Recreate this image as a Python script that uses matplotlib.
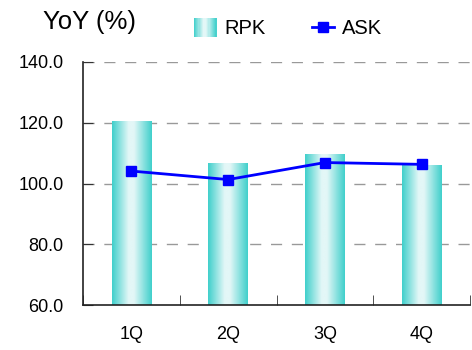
import numpy as np
import matplotlib
matplotlib.use("Agg")
import matplotlib.pyplot as plt
from matplotlib.colors import LinearSegmentedColormap
from matplotlib.patches import Rectangle
from matplotlib.lines import Line2D
from matplotlib.legend_handler import HandlerBase

categories = ["1Q", "2Q", "3Q", "4Q"]
rpk = [120.5, 106.6, 109.6, 106.0]
ask = [104.1, 101.3, 106.9, 106.3]
yticks = [60.0, 80.0, 100.0, 120.0, 140.0]

plt.rcParams['font.family'] = ['Liberation Sans', 'DejaVu Sans']

edge = "#3fcfcb"
light = "#e3f7f7"
cmap = LinearSegmentedColormap.from_list("g", [(0, edge), (0.42, light), (0.55, light), (1, edge)])
grad = np.linspace(0, 1, 256).reshape(1, -1)

fig = plt.figure(figsize=(4.72, 3.5), dpi=100)
ax = fig.add_axes([83/472, 1-305/350, 387/472, 243/350])

x = np.arange(len(categories))
bars = ax.bar(x, rpk, width=0.41, bottom=0, color="none", edgecolor="none", zorder=2)
for b in bars:
    x0, y0 = b.get_x(), 60
    im = ax.imshow(grad, cmap=cmap, aspect="auto", extent=(x0, x0 + b.get_width(), y0, b.get_height()),
                   zorder=2, interpolation="bilinear")
    im.set_clip_path(b)

ax.plot(x, ask, color="#0000ff", lw=2, marker="s", ms=7.5, zorder=4)

ax.set_xlim(-0.5, len(categories) - 0.5)
ax.set_ylim(60, 140)
ax.set_yticks(yticks)
ax.set_yticklabels([f"{v:.1f}" for v in yticks], fontsize=13)
for v in yticks[1:]:
    ax.axhline(v, color="#999999", lw=1.0, ls=(0, (8, 7)), zorder=1)

ax.set_xticks(x)
ax.set_xticklabels(categories, fontsize=13)
ax.tick_params(axis="x", length=0, pad=15)
ax.set_xticks(np.arange(len(categories) + 1) - 0.5, minor=True)
ax.tick_params(axis="x", which="minor", direction="in", length=7, color="#333333")
ax.tick_params(axis="y", direction="in", length=7, color="#333333", pad=14)

for s in ["top", "right"]:
    ax.spines[s].set_visible(False)
for s in ["left", "bottom"]:
    ax.spines[s].set_color("#222222")
    ax.spines[s].set_linewidth(1.2)

class GradHandler(HandlerBase):
    def create_artists(self, legend, orig_handle, xdescent, ydescent, width, height, fontsize, trans):
        n = 20
        arts = []
        for i in range(n):
            c = cmap((i + 0.5) / n)
            arts.append(Rectangle((-xdescent + width * i / n, -ydescent - 2), width / n + 0.3, height + 4,
                                  facecolor=c, edgecolor="none", transform=trans))
        return arts

rpk_handle = Rectangle((0, 0), 1, 1)
ask_handle = Line2D([], [], color="#0000ff", lw=2, marker="s", ms=7.5)
leg = fig.legend([rpk_handle, ask_handle], ["RPK", "ASK"], handler_map={Rectangle: GradHandler()},
                 ncol=2, frameon=False, fontsize=14.5, loc="center left",
                 bbox_to_anchor=(194/472, 1-29/350), handlelength=1.1, handletextpad=0.4,
                 columnspacing=2.3, borderaxespad=0, borderpad=0)

fig.text(43/472, 1-22/350, "YoY (%)", fontsize=18.5, va="center", ha="left")

fig.savefig("out.png", dpi=100)
